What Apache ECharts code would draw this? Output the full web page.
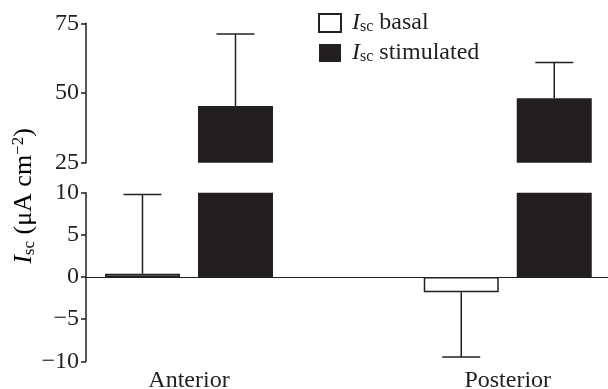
<!DOCTYPE html>
<html>
<head>
<meta charset="utf-8">
<script src="https://cdn.jsdelivr.net/npm/echarts@6/dist/echarts.min.js"></script>
<style>
  html, body { margin: 0; padding: 0; background: #fff; }
  #chart { width: 608px; height: 389px; }
</style>
</head>
<body>
<div id="chart"></div>
<script>
// data
var categories = ['Anterior', 'Posterior']
var basalMean = [0.4, -1.8]
var basalErr = [9.4, 7.7]
var stimMean = [45.3, 48.1]
var stimErr = [25.9, 12.8]
var upperTicks = [25, 50, 75]
var lowerTicks = [-10, -5, 0, 5, 10]

var ink = '#231f20'
var font = 'Liberation Serif'
var fs = 24
var barW = 75
var gapW = 18

var chart = echarts.init(document.getElementById('chart'))

function pairs(vals, errs) {
  return vals.map(function(v, i) { return errs ? [i, v, errs[i]] : [i, v] })
}

// error bar drawn at the bar's centre; side -1 = first series, +1 = second
function errorItem(side) {
  return function(params, api) {
    var x = api.value(0)
    var m = api.value(1)
    var e = api.value(2)
    var end = m >= 0 ? m + e : m - e
    var p0 = api.coord([x, m])
    var p1 = api.coord([x, end])
    var dx = side * (barW + gapW) / 2
    var cx = p0[0] + dx
    var cs = params.coordSys
    return {
      type: 'group',
      clipPath: { type: 'rect', shape: { x: cs.x, y: cs.y - 1, width: cs.width, height: cs.height + 2 } },
      children: [
        { type: 'line', shape: { x1: cx, y1: p0[1], x2: cx, y2: p1[1] }, style: { stroke: ink, lineWidth: 1.5 } },
        { type: 'line', shape: { x1: cx - 19, y1: p1[1], x2: cx + 19, y2: p1[1] }, style: { stroke: ink, lineWidth: 1.5 } }
      ]
    }
  }
}

var isc = {
  i: { fontFamily: font, fontStyle: 'italic', fontSize: fs, color: ink },
  s: { fontFamily: font, fontSize: 16, color: ink, verticalAlign: 'bottom', padding: [8, 0, 0, 0] },
  t: { fontFamily: font, fontSize: fs, color: ink }
}

var xRange = { min: -0.3231, max: 1.3145 }

function yAxisStyle(grid, min, max, ticks) {
  return {
    type: 'value',
    gridIndex: grid,
    min: min,
    max: max,
    interval: ticks[1] - ticks[0],
    splitLine: { show: false },
    axisLine: { show: true, onZero: false, lineStyle: { color: ink, width: 1.5 } },
    axisTick: { show: true, length: 5, lineStyle: { color: ink, width: 1.5 } },
    axisLabel: {
      margin: 7,
      color: ink,
      fontFamily: font,
      fontSize: fs,
      formatter: function(v) { return v < 0 ? '\u2212' + Math.abs(v) : String(v) }
    }
  }
}

function series(grid) {
  return [
    {
      name: 'Isc basal',
      type: 'bar',
      xAxisIndex: grid,
      yAxisIndex: grid,
      barWidth: barW,
      barGap: (gapW / barW * 100) + '%',
      data: pairs(basalMean),
      itemStyle: { color: '#fff', borderColor: ink, borderWidth: 1.5 },
      markLine: grid === 1 ? {
        silent: true,
        symbol: 'none',
        label: { show: false },
        lineStyle: { color: ink, width: 1.2, type: 'solid' },
        data: [{ yAxis: 0 }]
      } : undefined
    },
    {
      name: 'Isc stimulated',
      type: 'bar',
      xAxisIndex: grid,
      yAxisIndex: grid,
      barWidth: barW,
      data: pairs(stimMean),
      itemStyle: { color: ink }
    },
    {
      type: 'custom',
      xAxisIndex: grid,
      yAxisIndex: grid,
      renderItem: errorItem(-1),
      data: pairs(basalMean, basalErr),
      z: 3
    },
    {
      type: 'custom',
      xAxisIndex: grid,
      yAxisIndex: grid,
      renderItem: errorItem(1),
      data: pairs(stimMean, stimErr),
      z: 3
    }
  ]
}

var option = {
  animation: false,
  legend: {
    orient: 'vertical',
    left: 313,
    top: 6,
    itemWidth: 22,
    itemHeight: 18,
    itemGap: 6,
    icon: 'rect',
    data: ['Isc basal', 'Isc stimulated'],
    formatter: function(name) {
      return '{i|I}{s|sc}{t| ' + name.replace('Isc ', '') + '}'
    },
    textStyle: { rich: isc, padding: [0, 0, 0, 6] }
  },
  grid: [
    { left: 86, right: 0, top: 23.3, height: 139.4, outerBoundsMode: 'none' },
    { left: 86, right: 0, top: 192.7, height: 168.6, outerBoundsMode: 'none' }
  ],
  xAxis: [
    { type: 'value', gridIndex: 0, min: xRange.min, max: xRange.max, show: false },
    {
      type: 'value',
      gridIndex: 1,
      min: xRange.min,
      max: xRange.max,
      splitLine: { show: false },
      axisLine: { show: false, onZero: false },
      axisTick: { show: false },
      axisLabel: {
        customValues: [0, 1],
        margin: 7,
        color: ink,
        fontFamily: font,
        fontSize: fs,
        formatter: function(v) { return categories[Math.round(v)] }
      }
    }
  ],
  yAxis: [
    yAxisStyle(0, 25, 75, upperTicks),
    yAxisStyle(1, -10, 10, lowerTicks)
  ],
  graphic: [
    {
      type: 'text',
      x: 24,
      y: 196,
      rotation: Math.PI / 2,
      style: {
        text: '{i|I}{s|sc}{t| (\u03bcA cm}{p|\u22122}{t|)}',
        align: 'center',
        verticalAlign: 'middle',
        rich: {
          i: { fontFamily: font, fontStyle: 'italic', fontSize: 26, color: ink },
          s: { fontFamily: font, fontSize: 17, color: ink, verticalAlign: 'bottom', padding: [9, 0, 0, 0] },
          t: { fontFamily: font, fontSize: 26, color: ink },
          p: { fontFamily: font, fontSize: 17, color: ink, verticalAlign: 'top', padding: [0, 0, 11, 0] }
        }
      }
    }
  ],
  series: series(0).concat(series(1))
}

chart.setOption(option)
window.addEventListener('resize', function() {
  chart.resize()
})
</script>
</body>
</html>
